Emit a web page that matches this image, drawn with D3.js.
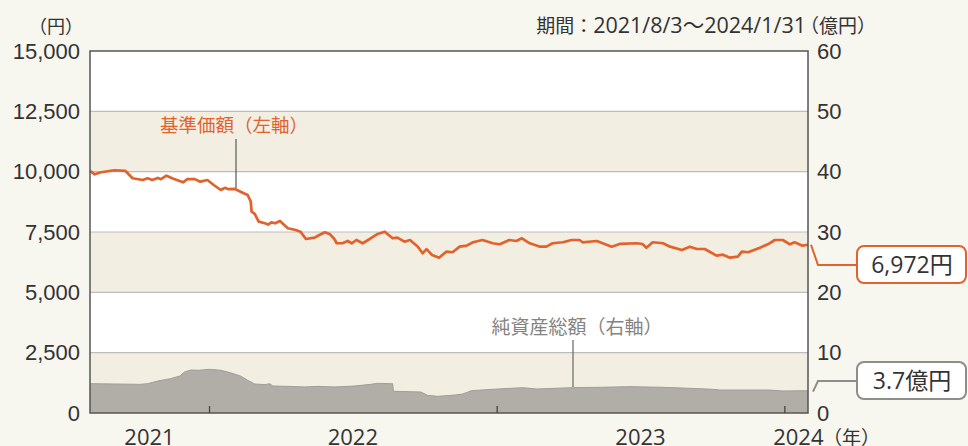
<!DOCTYPE html>
<html lang="ja">
<head>
<meta charset="utf-8">
<script src="https://cdn.jsdelivr.net/npm/d3@7"></script>
<style>
  html, body { margin: 0; padding: 0; background: #f7f6ef; }
  svg { display: block; font-family: "Open Sans", "Noto Sans CJK JP", sans-serif; }
</style>
</head>
<body>
<svg id="chart" width="968" height="446"></svg>
<script>
// 基準価額（円）
const navSeries = [
  ["2021-08-03",10030],["2021-08-09",9890],["2021-08-17",9975],["2021-09-03",10058],
  ["2021-09-17",10030],["2021-09-26",9726],["2021-10-09",9655],["2021-10-15",9726],
  ["2021-10-21",9655],["2021-10-28",9740],["2021-11-01",9690],["2021-11-08",9834],
  ["2021-11-16",9720],["2021-11-29",9560],["2021-12-05",9697],["2021-12-14",9690],
  ["2021-12-21",9585],["2021-12-30",9655],["2022-01-07",9448],["2022-01-16",9241],
  ["2022-01-21",9330],["2022-01-25",9280],["2022-02-03",9283],["2022-02-10",9171],
  ["2022-02-19",9034],["2022-02-23",8757],["2022-02-24",8342],["2022-02-28",8250],
  ["2022-03-05",7928],["2022-03-13",7861],["2022-03-17",7810],["2022-03-21",7900],
  ["2022-03-26",7861],["2022-04-01",7956],["2022-04-11",7654],["2022-04-21",7584],
  ["2022-04-27",7513],["2022-05-04",7211],["2022-05-15",7265],["2022-05-21",7376],
  ["2022-05-28",7488],["2022-06-03",7420],["2022-06-09",7211],["2022-06-12",7033],
  ["2022-06-20",7040],["2022-06-26",7128],["2022-07-01",7033],["2022-07-07",7169],
  ["2022-07-15",7033],["2022-07-24",7211],["2022-08-02",7405],["2022-08-12",7513],
  ["2022-08-22",7240],["2022-08-28",7265],["2022-09-06",7099],["2022-09-13",7169],
  ["2022-09-23",6892],["2022-09-29",6616],["2022-10-04",6790],["2022-10-11",6548],
  ["2022-10-20",6436],["2022-10-29",6685],["2022-11-06",6660],["2022-11-15",6892],
  ["2022-11-24",6933],["2022-12-02",7074],["2022-12-14",7169],["2022-12-27",7033],
  ["2023-01-05",6991],["2023-01-17",7169],["2023-01-26",7128],["2023-02-02",7240],
  ["2023-02-12",7033],["2023-02-25",6892],["2023-03-05",6892],["2023-03-13",7033],
  ["2023-03-26",7074],["2023-04-06",7169],["2023-04-16",7169],["2023-04-20",7074],
  ["2023-05-08",7128],["2023-05-27",6892],["2023-06-06",7004],["2023-06-28",7033],
  ["2023-07-05",7004],["2023-07-10",6850],["2023-07-18",7074],["2023-07-31",7033],
  ["2023-08-09",6892],["2023-08-24",6755],["2023-09-03",6892],["2023-09-12",6796],
  ["2023-09-22",6796],["2023-10-07",6519],["2023-10-15",6560],["2023-10-24",6436],
  ["2023-11-03",6478],["2023-11-08",6685],["2023-11-16",6660],["2023-12-01",6850],
  ["2023-12-11",6991],["2023-12-20",7169],["2023-12-30",7169],["2024-01-08",6991],
  ["2024-01-14",7074],["2024-01-24",6933],["2024-01-31",6972]
];

// 純資産総額（億円）
const assetSeries = [
  ["2021-08-03",4.86],["2021-10-06",4.75],["2021-10-15",4.86],["2021-10-28",5.30],
  ["2021-11-13",5.69],["2021-11-25",6.13],["2021-12-01",6.80],["2021-12-09",7.13],
  ["2021-12-18",7.08],["2022-01-02",7.24],["2022-01-16",7.08],["2022-01-28",6.68],
  ["2022-02-10",6.13],["2022-02-19",5.42],["2022-02-28",4.81],["2022-03-13",4.70],
  ["2022-03-19",4.86],["2022-03-23",4.48],["2022-04-11",4.42],["2022-05-02",4.31],
  ["2022-05-19",4.42],["2022-06-09",4.31],["2022-07-05",4.48],["2022-07-25",4.75],
  ["2022-08-03",4.92],["2022-08-19",4.86],["2022-08-22",4.86],["2022-08-23",3.60],
  ["2022-09-27",3.48],["2022-10-05",2.93],["2022-10-18",2.76],["2022-11-09",2.98],
  ["2022-11-19",3.15],["2022-11-30",3.70],["2022-12-27",3.93],["2023-02-03",4.20],
  ["2023-02-21",3.98],["2023-04-07",4.20],["2023-05-12",4.26],["2023-06-19",4.37],
  ["2023-07-31",4.26],["2023-09-03",4.09],["2023-10-02",3.93],["2023-10-11",3.81],
  ["2023-11-18",3.81],["2023-12-13",3.81],["2023-12-30",3.65],["2024-01-31",3.70]
];

const leftTicks = [0, 2500, 5000, 7500, 10000, 12500, 15000];
const rightTicks = [0, 10, 20, 30, 40, 50, 60];
const yearBoundaries = ["2022-01-01", "2023-01-01", "2024-01-01"];
const yearLabels = ["2021", "2022", "2023", "2024"];
const periodStart = "2021-08-03";
const periodEnd = "2024-01-31";
const navLast = 6972;
const assetLast = 3.7;

const parse = d3.timeParse("%Y-%m-%d");
const nav = navSeries.map(([d, v]) => ({ date: parse(d), value: v }));
const assets = assetSeries.map(([d, v]) => ({ date: parse(d), value: v }));

const m = { left: 90, right: 808, top: 51, bottom: 413 };
const svg = d3.select("#chart");

const x = d3.scaleTime().domain([parse(periodStart), parse(periodEnd)]).range([m.left, m.right]);
const yL = d3.scaleLinear().domain([0, 15000]).range([m.bottom, m.top]);
const yR = d3.scaleLinear().domain([0, 60]).range([m.bottom, m.top]);

const ORANGE = "#e2622c";
const TEXT = "#333";
const NUM = 22;

// alternating horizontal bands
const bands = d3.pairs(leftTicks);
svg.append("g").selectAll("rect").data(bands).join("rect")
  .attr("x", m.left).attr("width", m.right - m.left)
  .attr("y", d => yL(d[1])).attr("height", d => yL(d[0]) - yL(d[1]))
  .attr("fill", (d, i) => i % 2 === 0 ? "#f2efe2" : "#ffffff");

// grid lines
svg.append("g").selectAll("line").data(leftTicks.slice(1, -1)).join("line")
  .attr("x1", m.left).attr("x2", m.right)
  .attr("y1", d => yL(d)).attr("y2", d => yL(d))
  .attr("stroke", "#bdbdbd").attr("stroke-width", 1.2);

// net assets area (right axis)
svg.append("path").datum(assets)
  .attr("d", d3.area().x(d => x(d.date)).y0(yR(0)).y1(d => yR(d.value)))
  .attr("fill", "#b1aea8");
svg.append("path").datum(assets)
  .attr("d", d3.line().x(d => x(d.date)).y(d => yR(d.value)))
  .attr("fill", "none").attr("stroke", "#a19d97").attr("stroke-width", 1);

// NAV line (left axis)
svg.append("path").datum(nav)
  .attr("d", d3.line().x(d => x(d.date)).y(d => yL(d.value)))
  .attr("fill", "none").attr("stroke", ORANGE).attr("stroke-width", 2.7)
  .attr("stroke-linejoin", "round");

// frame
svg.append("rect")
  .attr("x", m.left).attr("y", m.top)
  .attr("width", m.right - m.left).attr("height", m.bottom - m.top)
  .attr("fill", "none").attr("stroke", "#555").attr("stroke-width", 1.5);

// year boundary ticks
const xAxis = svg.append("g").attr("transform", `translate(0,${m.bottom})`)
  .call(d3.axisBottom(x).tickValues(yearBoundaries.map(parse)).tickSize(-7).tickFormat(""));
xAxis.select(".domain").remove();
xAxis.selectAll(".tick line").attr("stroke", "#444").attr("stroke-width", 1.3);

// year labels centred on each year's span
const edges = [parse(periodStart), ...yearBoundaries.map(parse), parse(periodEnd)];
const labelPos = yearLabels.map((t, i) => {
  if (i === yearLabels.length - 1) return x(edges[i]) + 14;
  return (x(edges[i]) + x(edges[i + 1])) / 2;
});
svg.append("g").selectAll("text").data(yearLabels).join("text")
  .attr("x", (d, i) => labelPos[i]).attr("y", 445)
  .attr("text-anchor", "middle").attr("font-size", NUM).attr("fill", TEXT)
  .text(d => d);
svg.append("text").attr("x", 823).attr("y", 445)
  .attr("font-size", 19).attr("fill", TEXT).text("（年）");

// left axis labels
const axL = svg.append("g").attr("transform", `translate(${m.left},0)`)
  .call(d3.axisLeft(yL).tickValues(leftTicks).tickFormat(d3.format(",")).tickSize(0).tickPadding(10));
axL.select(".domain").remove();
axL.selectAll("text").attr("font-size", NUM).attr("fill", TEXT).attr("font-family", null);

// right axis labels
const axR = svg.append("g").attr("transform", `translate(${m.right},0)`)
  .call(d3.axisRight(yR).tickValues(rightTicks).tickSize(0).tickPadding(9));
axR.select(".domain").remove();
axR.selectAll("text").attr("font-size", NUM).attr("fill", TEXT).attr("font-family", null);

// unit labels and period
svg.append("text").attr("x", 83).attr("y", 33).attr("text-anchor", "end")
  .attr("font-size", 18).attr("fill", TEXT).text("（円）");
const period = svg.append("text").attr("x", 806).attr("y", 33).attr("text-anchor", "end")
  .attr("fill", TEXT);
period.append("tspan").attr("font-size", 19).text("期間：");
period.append("tspan").attr("font-size", 21.5).text("2021/8/3～2024/1/31");
svg.append("text").attr("x", 876).attr("y", 33).attr("text-anchor", "end")
  .attr("font-size", 19).attr("fill", TEXT).text("（億円）");

// series annotations
svg.append("line").attr("x1", 236).attr("x2", 236).attr("y1", 139).attr("y2", 188)
  .attr("stroke", "#555").attr("stroke-width", 1.2);
svg.append("text").attr("x", 234).attr("y", 132).attr("text-anchor", "middle")
  .attr("font-size", 18.5).attr("fill", ORANGE).text("基準価額（左軸）");

svg.append("line").attr("x1", 573).attr("x2", 573).attr("y1", 340).attr("y2", 387)
  .attr("stroke", "#666").attr("stroke-width", 1.2);
svg.append("text").attr("x", 577).attr("y", 334).attr("text-anchor", "middle")
  .attr("font-size", 19).attr("fill", "#858380").text("純資産総額（右軸）");

// latest value callouts
const navEndY = yL(navLast);
svg.append("polyline")
  .attr("points", [[m.right + 3, navEndY], [818, 265], [857, 265]].map(p => p.join(",")).join(" "))
  .attr("fill", "none").attr("stroke", ORANGE).attr("stroke-width", 2);
svg.append("rect").attr("x", 857).attr("y", 246).attr("width", 109).attr("height", 37)
  .attr("rx", 7).attr("fill", "#fff").attr("stroke", ORANGE).attr("stroke-width", 2);
svg.append("text").attr("x", 912).attr("y", 273).attr("text-anchor", "middle")
  .attr("font-size", 23).attr("fill", TEXT).text(d3.format(",")(navLast) + "円");

const assetEndY = yR(assetLast);
svg.append("polyline")
  .attr("points", [[m.right + 5, assetEndY + 1], [818, 381], [857, 381]].map(p => p.join(",")).join(" "))
  .attr("fill", "none").attr("stroke", "#8f8d8a").attr("stroke-width", 2);
svg.append("rect").attr("x", 857).attr("y", 362).attr("width", 109).attr("height", 37)
  .attr("rx", 7).attr("fill", "#fff").attr("stroke", "#8f8d8a").attr("stroke-width", 2);
svg.append("text").attr("x", 912).attr("y", 389).attr("text-anchor", "middle")
  .attr("font-size", 23).attr("fill", TEXT).text(assetLast + "億円");
</script>
</body>
</html>
